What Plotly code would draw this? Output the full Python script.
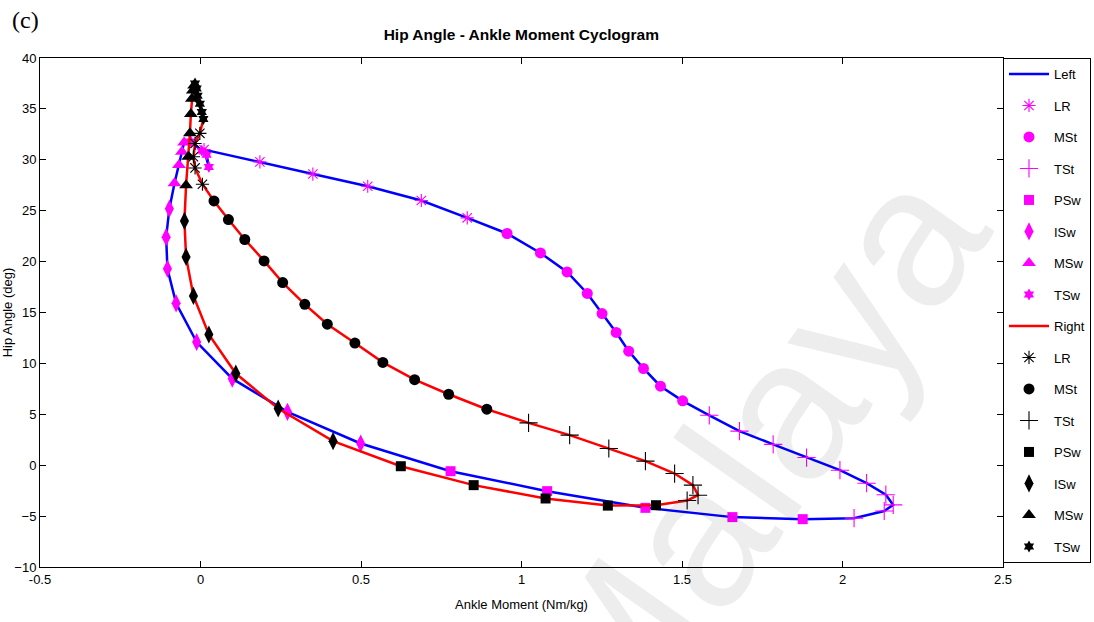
import plotly.graph_objects as go

# ---- Left limb (blue line, magenta phase markers) ----
left_lr_x = [0.011, 0.185, 0.350, 0.521, 0.688, 0.831]
left_lr_y = [31.0, 29.8, 28.6, 27.4, 26.0, 24.3]
left_mst_x = [0.955, 1.059, 1.142, 1.205, 1.251, 1.295, 1.334, 1.380, 1.433, 1.502]
left_mst_y = [22.76, 20.85, 18.99, 16.87, 14.9, 13.04, 11.2, 9.5, 7.76, 6.32]
left_tst_x = [1.585, 1.679, 1.784, 1.888, 1.992, 2.075, 2.135, 2.158, 2.130, 2.036]
left_tst_y = [4.9, 3.35, 2.05, 0.75, -0.49, -1.77, -2.9, -3.9, -4.5, -5.2]
left_psw_x = [1.876, 1.657, 1.386, 1.080, 0.779]
left_psw_y = [-5.3, -5.1, -4.19, -2.55, -0.59]
left_isw_x = [0.499, 0.271, 0.099, -0.012, -0.076, -0.103, -0.107, -0.097]
left_isw_y = [2.13, 5.24, 8.5, 12.1, 15.9, 19.3, 22.4, 25.2]
left_msw_x = [-0.081, -0.067, -0.058, -0.051]
left_msw_y = [27.7, 29.5, 30.8, 31.7]
left_tsw_x = [-0.030, 0.004, 0.019, 0.026]
left_tsw_y = [31.8, 30.9, 30.5, 29.3]

# ---- Right limb (red line, black phase markers) ----
right_lr_x = [-0.002, -0.017, -0.022, -0.017, 0.006]
right_lr_y = [32.6, 31.6, 30.3, 29.2, 27.6]
right_mst_x = [0.042, 0.087, 0.138, 0.198, 0.256, 0.325, 0.395, 0.481, 0.568, 0.667, 0.773, 0.892]
right_mst_y = [25.96, 24.13, 22.17, 20.07, 17.94, 15.8, 13.85, 12.0, 10.1, 8.4, 6.97, 5.5]
right_tst_x = [1.022, 1.150, 1.272, 1.386, 1.477, 1.534, 1.550, 1.516]
right_tst_y = [4.16, 2.95, 1.64, 0.4, -0.82, -1.96, -2.95, -3.47]
right_psw_x = [1.419, 1.269, 1.075, 0.851, 0.624]
right_psw_y = [-3.93, -3.97, -3.27, -1.96, -0.1]
right_isw_x = [0.413, 0.242, 0.110, 0.026, -0.022, -0.045, -0.050]
right_isw_y = [2.36, 5.57, 9.0, 12.84, 16.63, 20.46, 24.0]
right_msw_x = [-0.045, -0.038, -0.033, -0.030, -0.027, -0.024, -0.020]
right_msw_y = [27.5, 30.3, 32.6, 34.5, 36.0, 36.8, 37.3]
right_tsw_x = [-0.017, -0.012, -0.009, -0.002, 0.004, 0.009]
right_tsw_y = [37.5, 37.0, 36.3, 35.5, 34.7, 34.0]

phase_names = ["LR", "MSt", "TSt", "PSw", "ISw", "MSw", "TSw"]
x_ticks = [-0.5, 0, 0.5, 1, 1.5, 2, 2.5]
x_tick_text = ["-0.5", "0", "0.5", "1", "1.5", "2", "2.5"]
y_ticks = [-10, -5, 0, 5, 10, 15, 20, 25, 30, 35, 40]

left_phases = [(left_lr_x, left_lr_y), (left_mst_x, left_mst_y), (left_tst_x, left_tst_y),
               (left_psw_x, left_psw_y), (left_isw_x, left_isw_y), (left_msw_x, left_msw_y),
               (left_tsw_x, left_tsw_y)]
right_phases = [(right_lr_x, right_lr_y), (right_mst_x, right_mst_y), (right_tst_x, right_tst_y),
                (right_psw_x, right_psw_y), (right_isw_x, right_isw_y), (right_msw_x, right_msw_y),
                (right_tsw_x, right_tsw_y)]

# marker style per gait phase: (symbol, size, open?)
phase_style = [
    ("asterisk-open", 11, True),
    ("circle", 11, False),
    ("cross-thin-open", 13, True),
    ("square", 10, False),
    ("diamond-tall", 13, False),
    ("triangle-up", 12, False),
    ("hexagram", 9, False),
]

FONT = "Liberation Sans, Arial, Helvetica, sans-serif"
fig = go.Figure()
group_id = [0]


def add_limb(name, phases, line_color, marker_color):
    xs, ys = [], []
    for px, py in phases:
        xs += px
        ys += py
    xs.append(xs[0])
    ys.append(ys[0])
    group_id[0] += 1
    fig.add_trace(go.Scatter(x=xs, y=ys, mode="lines", name=name,
                             line=dict(color=line_color, width=2.5),
                             legendgroup=f"g{group_id[0]}"))
    for (px, py), pname, (sym, size, is_open) in zip(phases, phase_names, phase_style):
        group_id[0] += 1
        marker = dict(symbol=sym, size=size, color=marker_color,
                      line=dict(color=marker_color, width=1.1 if is_open else 0))
        fig.add_trace(go.Scatter(x=px, y=py, mode="markers", name=pname, marker=marker,
                                 legendgroup=f"g{group_id[0]}"))


add_limb("Left", left_phases, "#0000ff", "#ff00ff")
add_limb("Right", right_phases, "#ff0000", "#000000")

axis_common = dict(showline=True, linecolor="black", linewidth=1, mirror="ticks",
                   ticks="inside", ticklen=6, tickcolor="black", showgrid=False,
                   zeroline=False, tickfont=dict(family=FONT, size=13, color="black"))

fig.update_xaxes(range=[-0.5, 2.5], tickvals=x_ticks, ticktext=x_tick_text,
                 title=dict(text="Ankle Moment (Nm/kg)", font=dict(family=FONT, size=13, color="black"),
                            standoff=14),
                 **axis_common)
fig.update_yaxes(range=[-10, 40], tickvals=y_ticks,
                 title=dict(text="Hip Angle (deg)", font=dict(family=FONT, size=13, color="black"),
                            standoff=4),
                 **axis_common)

fig.update_layout(
    width=1094, height=622,
    margin=dict(l=40, r=91, t=58, b=55, autoexpand=False),
    paper_bgcolor="white", plot_bgcolor="white",
    title=dict(text="<b>Hip Angle - Ankle Moment Cyclogram</b>", x=0.4765, xanchor="center",
               y=1 - 35 / 622, yanchor="middle", font=dict(family=FONT, size=15.5, color="black")),
    legend=dict(xref="container", yref="container", x=1003 / 1094, xanchor="left",
                y=1 - 58 / 622, yanchor="top", traceorder="grouped",
                tracegroupgap=11.6, bordercolor="black", borderwidth=1, bgcolor="white",
                font=dict(family=FONT, size=13, color="black"), itemwidth=40, maxheight=600),
    annotations=[
        dict(text="(c)", xref="paper", yref="paper", x=-0.031, y=1.075, xanchor="left",
             yanchor="middle", showarrow=False,
             font=dict(family="Liberation Serif, Times New Roman, serif", size=24, color="black")),
        dict(text="Malaya", xref="paper", yref="paper", x=0.74, y=0.22, xanchor="center",
             yanchor="middle", showarrow=False, textangle=-55,
             font=dict(family=FONT, size=200, color="rgba(0,0,0,0.07)")),
    ],
)

fig.write_html("out.html")
